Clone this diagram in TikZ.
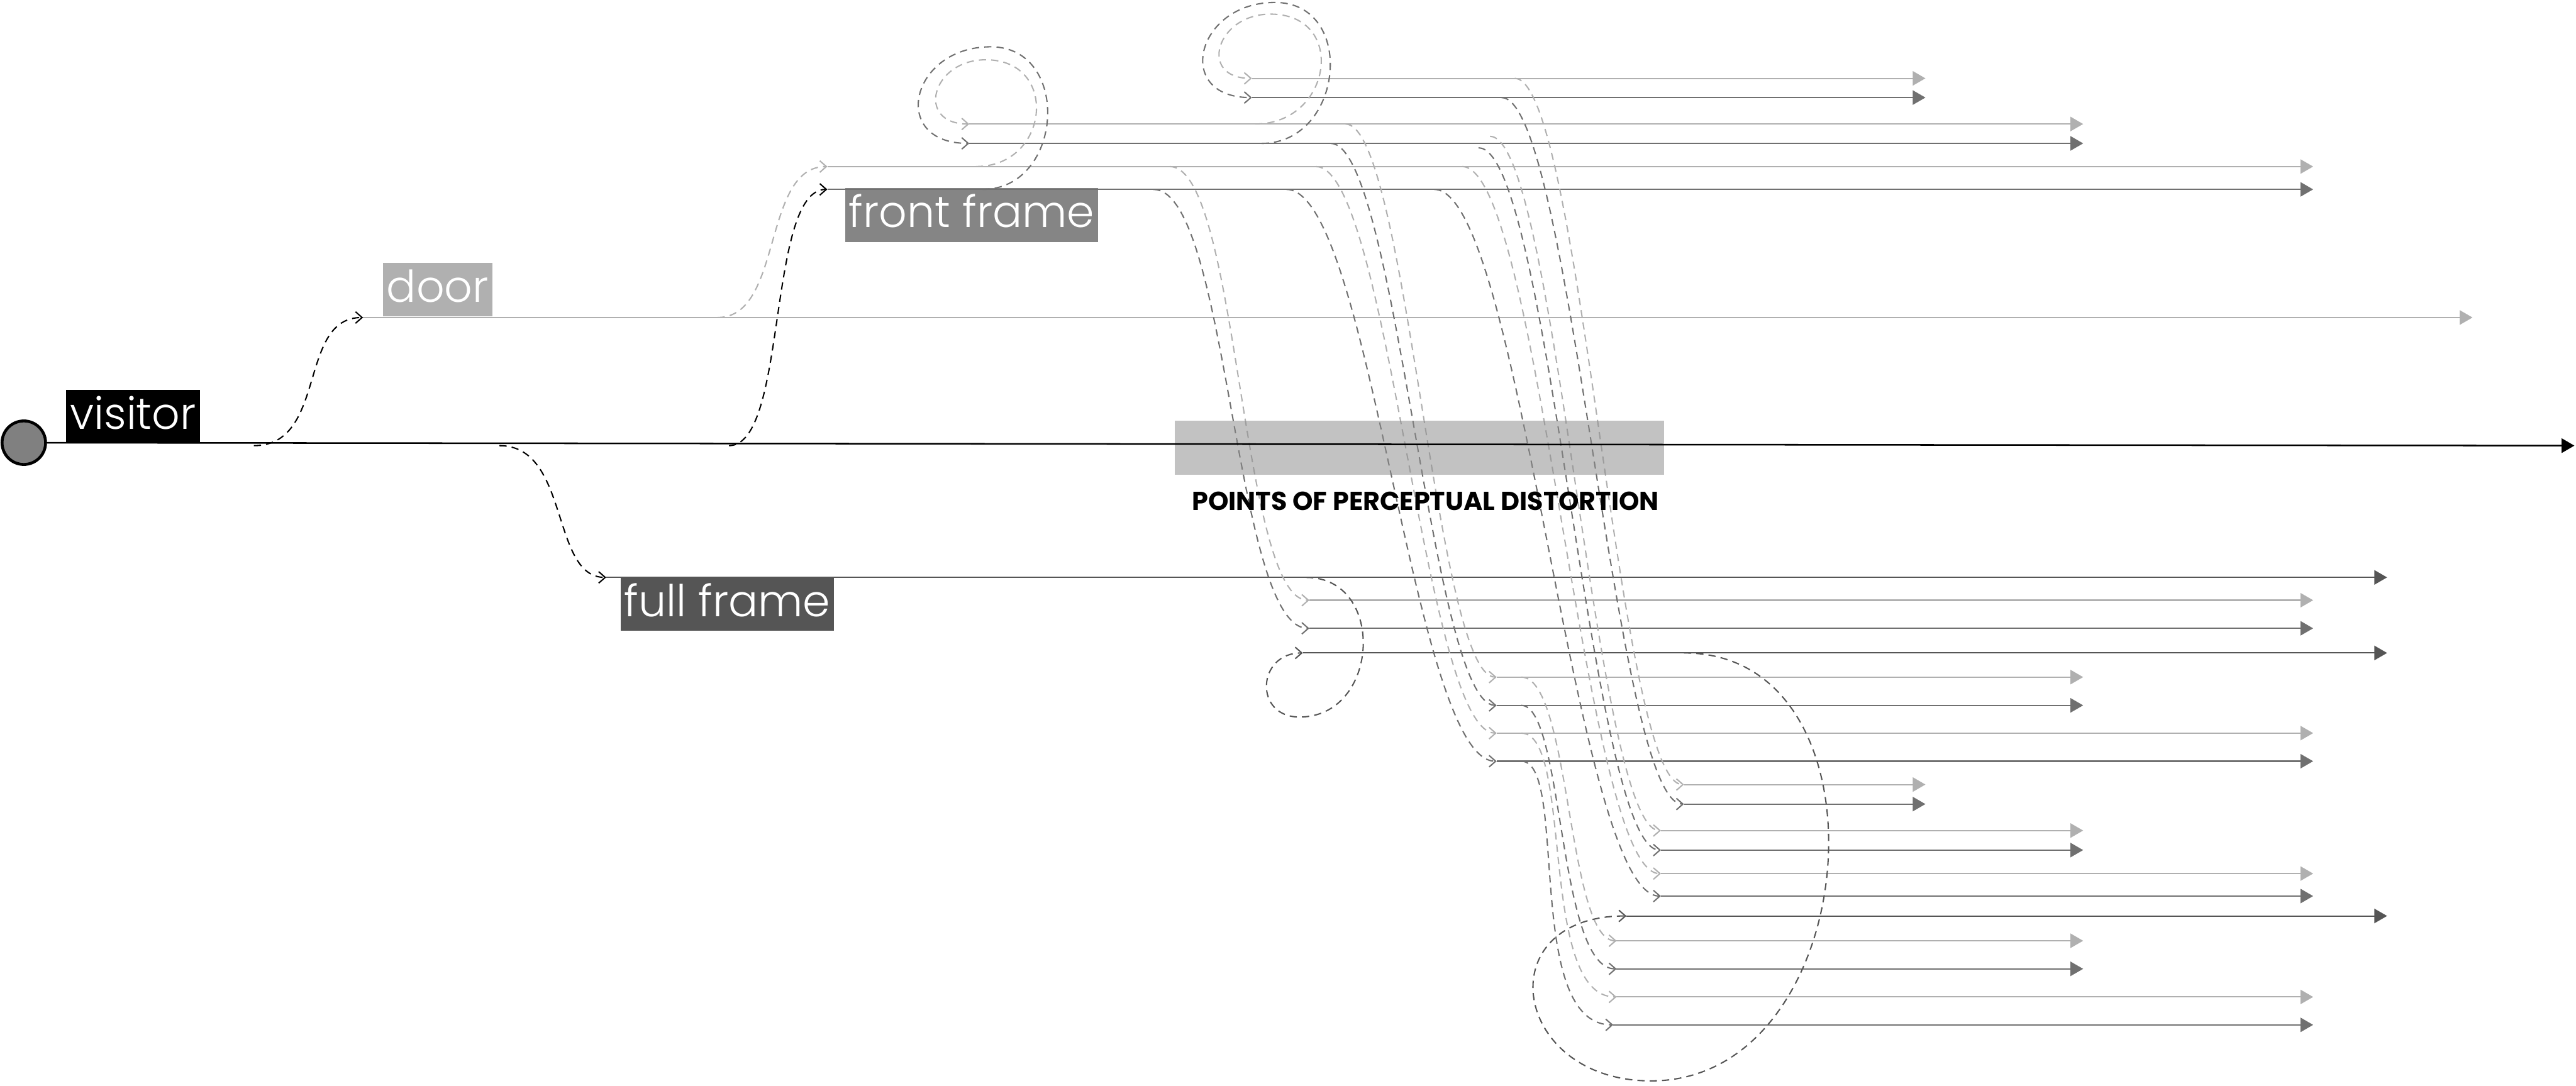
\documentclass[tikz,border=0pt]{standalone}
\usepackage{fontspec}
\setmainfont{Poppins}
\newfontfamily\thinfont{Poppins Light}
\usetikzlibrary{arrows.meta,positioning}
\definecolor{LiteGray}{RGB}{176,176,176}
\definecolor{MidGray}{RGB}{112,112,112}
\definecolor{DeepGray}{RGB}{85,85,85}
\definecolor{FrameGray}{RGB}{133,133,133}
\definecolor{DotGray}{RGB}{128,128,128}
\tikzset{
    track/.style={line width=0.45pt, -{Triangle[length=1.55mm,width=1.75mm]}},
    hop/.style={line width=0.45pt, dash pattern=on 0.88mm off 0.62mm, -{Straight Barb[length=0.8mm,width=1.4mm]}},
    drop/.style 2 args={to path={.. controls +(#1,0) and +(-#2,0) .. (\tikztotarget)}},
    tag/.style={inner xsep=0.45mm, inner ysep=0pt, text height=4.8mm, text depth=1.74mm, text=white, font=\thinfont\fontsize{15.2}{18}\selectfont},
}

\begin{document}
\begin{tikzpicture}[x=0.2mm, y=-0.2mm]
\useasboundingbox (0,0) rectangle (1568,661);

\node[tag, fill=black, anchor=south west] (visitor) at (40,270.3) {visitor};
\node[tag, fill=LiteGray, anchor=south west] (door) at (232.8,192.9) {door};
\node[tag, fill=FrameGray, anchor=north west] (front) at (514,114.2) {front frame};
\node[tag, fill=DeepGray, anchor=north west] (full) at (377.3,351) {full frame};

\foreach \n/\y/\xs/\xe/\col in {
    47/47.7/762/1172/LiteGray, 59/59.4/762/1172/MidGray,
    75/75.5/590/1268/LiteGray, 87/87.3/590/1268/MidGray,
    101/101.4/503.6/1408/LiteGray, 115/115.3/503.6/1408/MidGray,
    193/193.3/221/1505/LiteGray,
    352/351.5/369/1453/DeepGray,
    366/365.4/797/1408/LiteGray, 382/382.5/797/1408/MidGray,
    398/397.5/793/1453/DeepGray,
    412/412.2/911/1268/LiteGray, 429/429.4/911/1268/MidGray,
    446/446.3/911/1408/LiteGray, 463/463.4/911/1408/MidGray,
    478/477.6/1025/1172/LiteGray, 490/489.5/1025/1172/MidGray,
    506/505.6/1011/1268/LiteGray, 518/517.5/1011/1268/MidGray,
    532/531.8/1011/1408/LiteGray, 546/545.5/1011/1408/MidGray,
    558/557.6/990/1453/DeepGray,
    573/572.7/984/1268/LiteGray, 590/589.8/984/1268/MidGray,
    607/606.9/984/1408/LiteGray, 624/623.9/982/1408/MidGray}{
    \coordinate (s\n) at (\xs,\y);
    \coordinate (e\n) at (\xe,\y);
    \draw[track, \col] (s\n) -- (e\n);
}

\foreach \n/\x/\y in {
    m155/154.5/271.3, m304/304/271.3, m444/443.7/271.3, d437/436.8/193.3,
    f598/598/115.3, f594/594/101.4, f768/768/87.3, f764/764/75.5,
    f702/702/115.3, f712/712/101.4,
    f783/783/115.3, f801/801/101.4, f810/810/87.3, f819/819/75.5,
    f873/873/115.3, f890/890/101.4, f900/900/90, f907/907/83, f914/914/59.4, f922/922/47.7,
    f926a/926/412.2, f926b/926/429.4, f926c/926/446.3, f926d/926/463.4,
    g795/795/351.5, g1025/1025/397.5,
    ta1/603/28.5, ta2/600/36.4, tb1/776/1.5, tb2/773.3/8.6, lp1/791/436.5, lp2/1005/658}
    \coordinate (\n) at (\x,\y);

\foreach \a/\b/\p/\q/\col in {
    m155/s193/45/40/black, m444/s115/36/37/black, m304/s352/43/34/black,
    d437/s101/40/40/LiteGray,
    f702/s382/46/46/MidGray, f712/s366/42/42/LiteGray,
    f783/s463/51/51/MidGray, f801/s446/44/44/LiteGray,
    f810/s429/40/40/MidGray, f819/s412/37/37/LiteGray,
    f873/s546/53/53/MidGray, f890/s532/47/47/LiteGray,
    f900/s518/43/43/MidGray, f907/s506/40/40/LiteGray,
    f914/s490/42/42/MidGray, f922/s478/40/40/LiteGray,
    f926a/s573/30/30/LiteGray, f926b/s590/26/36/MidGray,
    f926c/s607/32/48/LiteGray, f926d/s624/29/55/MidGray}
    \draw[hop, \col] (\a) to[drop={\p}{\q}] (\b);

\draw[hop, MidGray] (f598) .. controls +(49.5,0) and +(49.5,0) .. (ta1) .. controls +(-49,0) and +(-49,0) .. (s87);
\draw[hop, LiteGray] (f594) .. controls +(45,0) and +(45,0) .. (ta2) .. controls +(-33,0) and +(-33,0) .. (s75);
\draw[hop, MidGray] (f768) .. controls +(50,0) and +(50,0) .. (tb1) .. controls +(-48,0) and +(-48,0) .. (s59);
\draw[hop, LiteGray] (f764) .. controls +(47,0) and +(47,0) .. (tb2) .. controls +(-33,0) and +(-33,0) .. (s47);
\draw[hop, DeepGray] (g795) .. controls +(49,0) and +(49,0) .. (lp1) .. controls +(-28,0) and +(-28,0) .. (s398);
\draw[hop, DeepGray] (g1025) .. controls +(130,0) and +(130,0) .. (lp2) .. controls +(-85,0) and +(-85,0) .. (s558);

\node[fill=black!45, fill opacity=0.53, minimum width=59.6mm, minimum height=6.6mm, inner sep=0pt] (distort) at (864,272.5) {};
\node[font=\bfseries\fontsize{9}{10}\selectfont, anchor=base] (caption) at (867.7,310.6) {POINTS OF PERCEPTUAL DISTORTION};

\coordinate (m1) at (1567,271.3);
\node[circle, draw=black, line width=1pt, fill=DotGray, minimum size=5.3mm, inner sep=0pt] (dot) at (14.5,269.5) {};
\draw[track, black, line width=0.55pt] (dot) -- (m1);
\end{tikzpicture}
\end{document}
